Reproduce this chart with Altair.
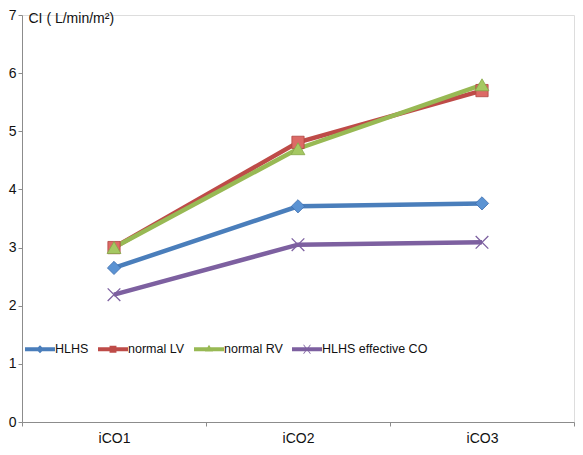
import altair as alt
import pandas as pd

categories = ["iCO1", "iCO2", "iCO3"]
series = ["HLHS", "normal LV", "normal RV", "HLHS effective CO"]
hlhs = [2.65, 3.71, 3.76]
normal_lv = [3.00, 4.81, 5.70]
normal_rv = [3.00, 4.70, 5.80]
hlhs_eff = [2.19, 3.05, 3.09]

line_colors = ["#4a7ebb", "#be4b48", "#98b954", "#7d60a0"]
marker_fills = ["#5b93d3", "#dc6a66", "#a5c862", "#7d60a0"]
marker_strokes = ["#3f6fae", "#b04440", "#86a84a", "#7d60a0"]
marker_shapes = ["diamond", "square", "triangle-up", "M-1,-1L1,1M-1,1L1,-1"]
marker_sizes = [175, 150, 190, 160]

# legend symbols: line segment + small marker (coordinates in the unit box)
bar = "M-1,-0.13L1,-0.13L1,0.13L-1,0.13Z"
legend_paths = [
    bar + " M0,-0.27L0.27,0L0,0.27L-0.27,0Z",
    bar + " M-0.23,-0.23L0.23,-0.23L0.23,0.23L-0.23,0.23Z",
    bar + " M0,-0.3L0.27,0.15L-0.27,0.15Z",
    bar + " M-0.25,-0.29L-0.21,-0.31L0.25,0.29L0.21,0.31Z M0.21,-0.31L0.25,-0.29L-0.21,0.31L-0.25,0.29Z",
]

rows = []
for name, vals in zip(series, [hlhs, normal_lv, normal_rv, hlhs_eff]):
    for c, v in zip(categories, vals):
        rows.append({"series": name, "cat": c, "ci": v})
df = pd.DataFrame(rows)

FONT = "Liberation Sans"
GREY = "#8c8c8c"

x = alt.X(
    "cat:N",
    sort=categories,
    bandPosition=0.5,
    scale=alt.Scale(type="band", domain=categories, paddingInner=0, paddingOuter=0),
    axis=alt.Axis(
        title=None, labelAngle=0, tickBand="extent", tickSize=4, tickColor=GREY,
        domainColor=GREY, labelFontSize=14, labelPadding=5, labelColor="#111",
        labelFont=FONT, grid=False,
    ),
)
y = alt.Y(
    "ci:Q",
    scale=alt.Scale(domain=[0, 7], nice=False, zero=True),
    axis=alt.Axis(
        title="CI ( L/min/m²)", titleAngle=0, titleX=6, titleY=7, titleAlign="left",
        titleBaseline="alphabetic", titleFontWeight="normal", titleFontSize=14,
        titleFont=FONT, titleColor="#111",
        values=[0, 1, 2, 3, 4, 5, 6, 7], tickSize=4, tickColor=GREY, domainColor=GREY,
        labelFontSize=14, labelPadding=2, labelColor="#111", labelFont=FONT, grid=False,
    ),
)

base = alt.Chart(df)

layers = []
for name, col in zip(series, line_colors):
    layers.append(
        base.transform_filter(alt.datum.series == name)
        .mark_line(strokeWidth=4.5, stroke=col)
        .encode(x=x, y=y)
    )
for name, shp, fc, sc, sz in zip(series, marker_shapes, marker_fills, marker_strokes, marker_sizes):
    if shp.startswith("M"):
        m = base.transform_filter(alt.datum.series == name).mark_point(
            shape=shp, filled=False, size=sz, stroke=sc, strokeWidth=1.3, opacity=1
        )
    else:
        m = base.transform_filter(alt.datum.series == name).mark_point(
            shape=shp, filled=True, size=sz, fill=fc, stroke=sc, strokeWidth=0.8, opacity=1
        )
    layers.append(m.encode(x=x, y=y))

leg = alt.Legend(
    title=None, orient="none", legendX=3, legendY=319, direction="horizontal",
    symbolSize=900, symbolOpacity=1, symbolStrokeWidth=0, labelOffset=0,
    columnPadding=9, labelFontSize=12.5, labelFont=FONT, labelColor="#111",
)
legend_layer = base.mark_point(filled=True, opacity=0).encode(
    x=x, y=y,
    color=alt.Color("series:N", scale=alt.Scale(domain=series, range=line_colors), legend=leg),
    shape=alt.Shape("series:N", scale=alt.Scale(domain=series, range=legend_paths), legend=leg),
)
layers.append(legend_layer)

chart = (
    alt.layer(*layers)
    .properties(width=552, height=407, padding={"left": 0, "top": 0, "right": 0, "bottom": 0})
    .configure_view(stroke=None)
    .configure(font=FONT)
)

chart.save("out.html", embed_options={"renderer": "svg", "actions": False})
